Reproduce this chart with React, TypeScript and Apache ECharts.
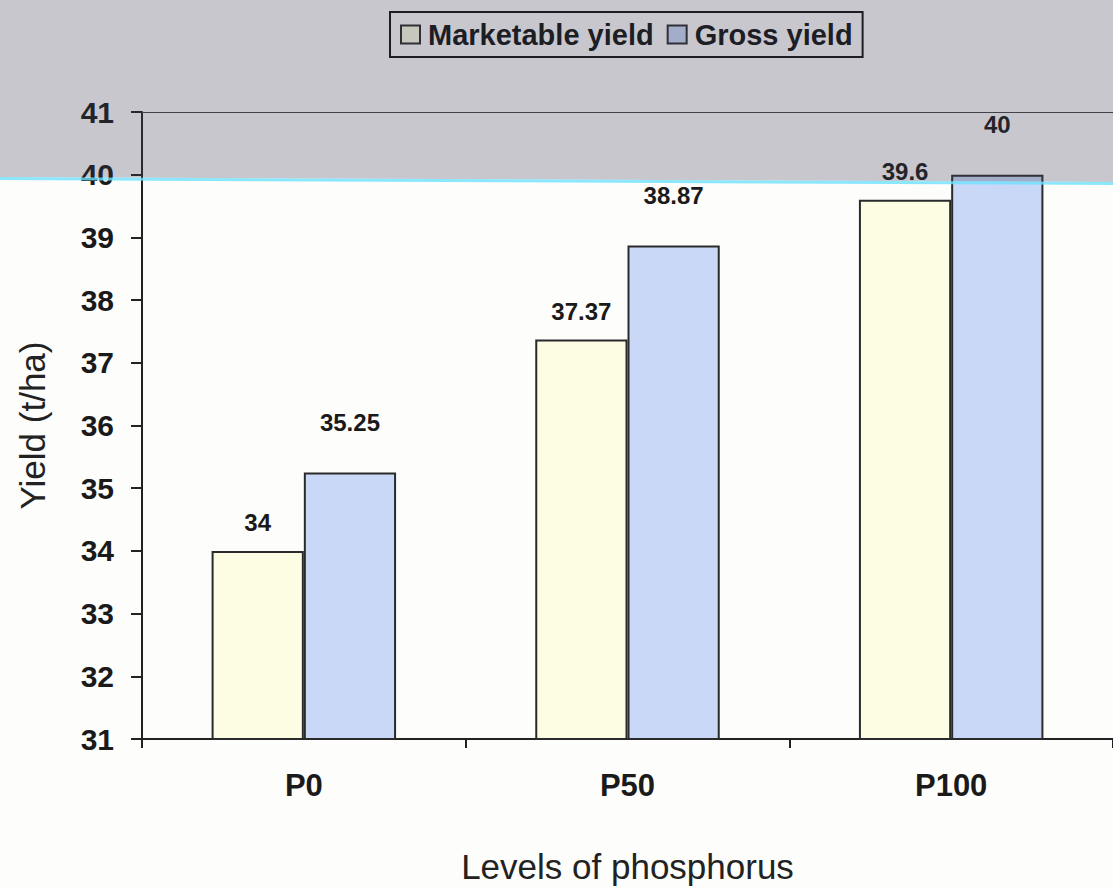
import React, { useEffect, useRef } from "react";
import * as echarts from "echarts";

const categories = ["P0", "P50", "P100"];
const marketableYield = [34, 37.37, 39.6];
const grossYield = [35.25, 38.87, 40];
const seriesNames = ["Marketable yield", "Gross yield"];
const yMin = 31;
const yMax = 41;
const yInterval = 1;

const FONT = "'Liberation Sans', Arial, Helvetica, sans-serif";

export default function App() {
  const ref = useRef<HTMLDivElement>(null);
  useEffect(() => {
    document.body.style.margin = "0";
    if (!ref.current) return;
    const chart = echarts.init(ref.current, null, { renderer: "svg" });
    const labelStyle = {
      show: true,
      position: "top" as const,
      fontSize: 24,
      fontWeight: "bold" as const,
      color: "#1a1a1a",
      fontFamily: FONT,
    };
    chart.setOption({
      animation: false,
      backgroundColor: "#fdfdfb",
      textStyle: { fontFamily: FONT },
      legend: {
        left: 390,
        top: 12,
        padding: [8, 10, 8, 10],
        borderColor: "#111",
        borderWidth: 2,
        itemGap: 13,
        itemWidth: 19,
        itemHeight: 18,
        icon: "rect",
        data: seriesNames,
        textStyle: {
          fontSize: 29,
          fontWeight: "bold",
          color: "#111",
          fontFamily: FONT,
          padding: [0, 0, 0, 3],
        },
      },
      grid: { left: 142, right: 0, top: 112, bottom: 149, containLabel: false },
      xAxis: [
        {
          type: "category",
          data: categories,
          axisLine: { show: true, lineStyle: { color: "#222", width: 2 } },
          axisTick: { show: true, length: 9, lineStyle: { color: "#222", width: 2 } },
          axisLabel: {
            fontSize: 31,
            fontWeight: "bold",
            margin: 31,
            color: "#1a1a1a",
            fontFamily: FONT,
          },
          name: "Levels of phosphorus",
          nameLocation: "middle",
          nameGap: 110,
          nameTextStyle: { fontSize: 35, color: "#222", fontFamily: FONT },
        },
        {
          type: "category",
          position: "top",
          data: categories,
          axisLine: { show: true, lineStyle: { color: "#444", width: 1 } },
          axisTick: { show: false },
          axisLabel: { show: false },
        },
      ],
      yAxis: {
        type: "value",
        min: yMin,
        max: yMax,
        interval: yInterval,
        splitLine: { show: false },
        axisLine: { show: true, lineStyle: { color: "#222", width: 2 } },
        axisTick: { show: true, length: 11, lineStyle: { color: "#222", width: 2 } },
        axisLabel: {
          fontSize: 30,
          fontWeight: "bold",
          margin: 28,
          color: "#1a1a1a",
          fontFamily: FONT,
        },
        name: "Yield (t/ha)",
        nameLocation: "middle",
        nameRotate: 90,
        nameGap: 92,
        nameTextStyle: { fontSize: 35, color: "#222", fontFamily: FONT },
      },
      series: [
        {
          name: seriesNames[0],
          type: "bar",
          data: marketableYield,
          barWidth: "28.5%",
          barGap: "0%",
          itemStyle: { color: "#fdfde4", borderColor: "#2a2a2a", borderWidth: 2 },
          label: { ...labelStyle, distance: 16 },
        },
        {
          name: seriesNames[1],
          type: "bar",
          data: grossYield,
          barWidth: "28.5%",
          barGap: "0%",
          itemStyle: { color: "#c8d8f6", borderColor: "#2a2a2a", borderWidth: 2 },
          label: { ...labelStyle, distance: 38 },
        },
      ],
      graphic: [
        {
          type: "polygon",
          z: 100,
          silent: true,
          shape: { points: [[0, 0], [1113, 0], [1113, 182], [0, 177]] },
          style: { fill: "rgba(60,60,85,0.28)" },
        },
        {
          type: "line",
          z: 101,
          silent: true,
          shape: { x1: 0, y1: 178.5, x2: 1113, y2: 183.5 },
          style: { stroke: "rgba(110,225,255,0.8)", lineWidth: 3 },
        },
      ],
    });
    return () => chart.dispose();
  }, []);
  return <div ref={ref} style={{ width: 1113, height: 889 }} />;
}
